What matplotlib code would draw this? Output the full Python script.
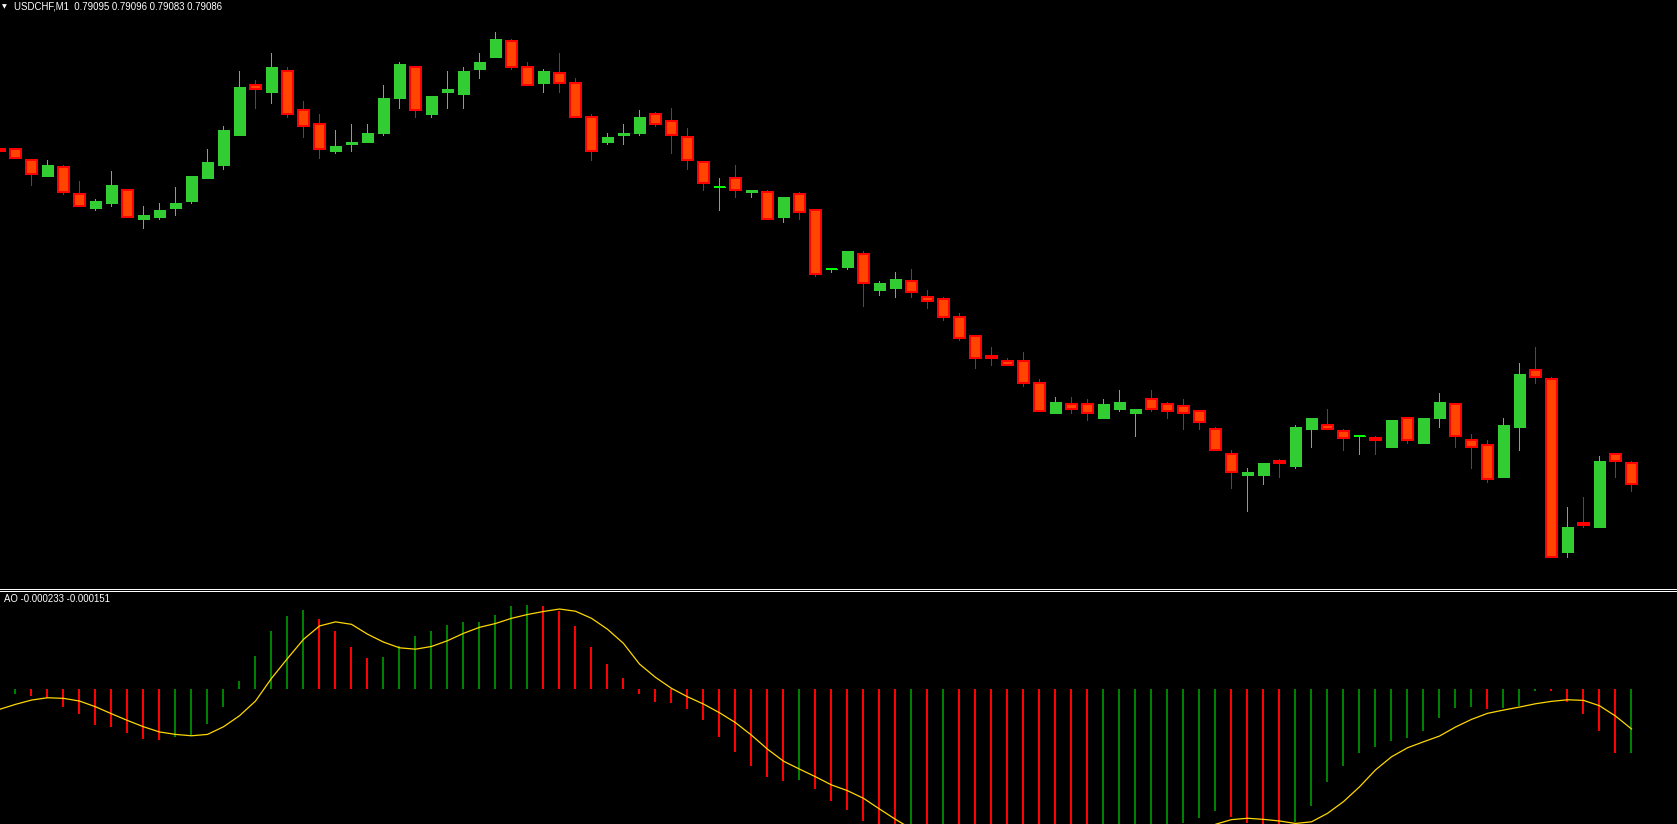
import matplotlib
matplotlib.use("Agg")
import matplotlib.pyplot as plt
from matplotlib.lines import Line2D
import numpy as np

# ---------------- data (USDCHF, M1) ----------------
opens = [0.79233, 0.79233, 0.79228, 0.79221, 0.79225, 0.79213, 0.79207, 0.79209, 0.79215, 0.79202,
         0.79203, 0.79207, 0.79210, 0.79220, 0.79226, 0.79239, 0.79261, 0.79258, 0.79267, 0.79250,
         0.79244, 0.79232, 0.79235, 0.79236, 0.79240, 0.79255, 0.79269, 0.79248, 0.79258, 0.79257,
         0.79268, 0.79273, 0.79280, 0.79269, 0.79262, 0.79266, 0.79262, 0.79247, 0.79236, 0.79239,
         0.79240, 0.79248, 0.79245, 0.79238, 0.79227, 0.79216, 0.79220, 0.79214, 0.79214, 0.79203,
         0.79213, 0.79206, 0.79180, 0.79181, 0.79187, 0.79171, 0.79172, 0.79175, 0.79168, 0.79167,
         0.79159, 0.79151, 0.79142, 0.79140, 0.79140, 0.79130, 0.79117, 0.79121, 0.79121, 0.79115,
         0.79119, 0.79117, 0.79123, 0.79121, 0.79120, 0.79118, 0.79110, 0.79099, 0.79090, 0.79090,
         0.79096, 0.79094, 0.79110, 0.79112, 0.79109, 0.79107, 0.79106, 0.79102, 0.79115, 0.79104,
         0.79115, 0.79121, 0.79105, 0.79103, 0.79089, 0.79111, 0.79136, 0.79132, 0.79056, 0.79069,
         0.79067, 0.79099, 0.79095]
highs = [0.79233, 0.79233, 0.79228, 0.79228, 0.79226, 0.79219, 0.79211, 0.79223, 0.79215, 0.79208,
         0.79209, 0.79216, 0.79221, 0.79233, 0.79243, 0.79267, 0.79263, 0.79275, 0.79269, 0.79254,
         0.79248, 0.79241, 0.79244, 0.79244, 0.79261, 0.79271, 0.79269, 0.79256, 0.79267, 0.79269,
         0.79275, 0.79284, 0.79281, 0.79271, 0.79268, 0.79275, 0.79264, 0.79248, 0.79240, 0.79244,
         0.79250, 0.79249, 0.79251, 0.79242, 0.79227, 0.79220, 0.79226, 0.79215, 0.79215, 0.79212,
         0.79214, 0.79206, 0.79180, 0.79188, 0.79188, 0.79175, 0.79179, 0.79180, 0.79171, 0.79168,
         0.79161, 0.79151, 0.79146, 0.79141, 0.79144, 0.79132, 0.79124, 0.79124, 0.79123, 0.79123,
         0.79127, 0.79119, 0.79127, 0.79122, 0.79123, 0.79118, 0.79111, 0.79101, 0.79093, 0.79095,
         0.79097, 0.79112, 0.79115, 0.79119, 0.79110, 0.79107, 0.79107, 0.79114, 0.79115, 0.79115,
         0.79126, 0.79121, 0.79108, 0.79105, 0.79115, 0.79139, 0.79146, 0.79133, 0.79076, 0.79080,
         0.79098, 0.79099, 0.79096]
lows = [0.79232, 0.79229, 0.79217, 0.79221, 0.79213, 0.79208, 0.79206, 0.79208, 0.79203, 0.79198,
        0.79202, 0.79204, 0.79209, 0.79220, 0.79224, 0.79239, 0.79251, 0.79253, 0.79247, 0.79238,
        0.79229, 0.79231, 0.79232, 0.79236, 0.79239, 0.79251, 0.79247, 0.79247, 0.79251, 0.79251,
        0.79264, 0.79273, 0.79268, 0.79261, 0.79258, 0.79258, 0.79247, 0.79228, 0.79235, 0.79235,
        0.79239, 0.79243, 0.79231, 0.79224, 0.79215, 0.79206, 0.79212, 0.79212, 0.79202, 0.79201,
        0.79202, 0.79177, 0.79179, 0.79180, 0.79164, 0.79169, 0.79168, 0.79168, 0.79163, 0.79158,
        0.79149, 0.79137, 0.79138, 0.79138, 0.79129, 0.79118, 0.79117, 0.79117, 0.79114, 0.79115,
        0.79118, 0.79107, 0.79118, 0.79115, 0.79110, 0.79110, 0.79101, 0.79084, 0.79074, 0.79086,
        0.79089, 0.79093, 0.79102, 0.79110, 0.79101, 0.79099, 0.79099, 0.79102, 0.79104, 0.79104,
        0.79111, 0.79102, 0.79093, 0.79087, 0.79089, 0.79101, 0.79130, 0.79054, 0.79054, 0.79067,
        0.79067, 0.79089, 0.79083]
closes = [0.79232, 0.79229, 0.79222, 0.79226, 0.79214, 0.79208, 0.79210, 0.79217, 0.79203, 0.79204,
          0.79206, 0.79209, 0.79221, 0.79227, 0.79241, 0.79260, 0.79259, 0.79269, 0.79248, 0.79243,
          0.79233, 0.79234, 0.79236, 0.79240, 0.79255, 0.79270, 0.79250, 0.79256, 0.79259, 0.79267,
          0.79271, 0.79281, 0.79269, 0.79261, 0.79267, 0.79262, 0.79247, 0.79232, 0.79238, 0.79240,
          0.79247, 0.79244, 0.79239, 0.79228, 0.79218, 0.79216, 0.79215, 0.79215, 0.79202, 0.79212,
          0.79205, 0.79178, 0.79180, 0.79188, 0.79174, 0.79174, 0.79176, 0.79170, 0.79166, 0.79159,
          0.79150, 0.79141, 0.79141, 0.79138, 0.79130, 0.79118, 0.79122, 0.79119, 0.79117, 0.79121,
          0.79122, 0.79119, 0.79119, 0.79118, 0.79117, 0.79113, 0.79101, 0.79091, 0.79091, 0.79095,
          0.79095, 0.79111, 0.79115, 0.79110, 0.79106, 0.79107, 0.79105, 0.79114, 0.79105, 0.79115,
          0.79122, 0.79107, 0.79102, 0.79088, 0.79112, 0.79134, 0.79133, 0.79054, 0.79067, 0.79068,
          0.79096, 0.79096, 0.79086]

# Awesome Oscillator histogram values
ao = [-0.000030, -0.000017, -0.0000245, -0.000034, -0.0000648, -0.0000904, -0.000132, -0.000139, -0.000161, -0.000183,
      -0.000187, -0.000175, -0.000168, -0.000127, -0.0000648, 0.0000293, 0.000121, 0.000212, 0.000267, 0.000289,
      0.000256, 0.000212, 0.000154, 0.000113, 0.000117, 0.000157, 0.000194, 0.000212, 0.000234, 0.000245,
      0.000246, 0.000271, 0.000304, 0.000307, 0.000303, 0.000285, 0.000231, 0.000154, 0.0000915, 0.0000403,
      -0.0000172, -0.0000465, -0.0000512, -0.0000732, -0.000112, -0.000175, -0.000229, -0.000281, -0.000321, -0.000336,
      -0.000332, -0.000365, -0.000409, -0.000442, -0.000482, -0.000536, -0.000553, -0.000545, -0.000554, -0.000551,
      -0.000555, -0.000583, -0.000612, -0.000632, -0.000646, -0.000660, -0.000662, -0.000663, -0.000664, -0.000653,
      -0.000619, -0.000598, -0.000560, -0.000524, -0.000492, -0.000472, -0.000445, -0.000467, -0.000492, -0.000508,
      -0.000513, -0.000488, -0.000427, -0.000339, -0.000281, -0.000233, -0.000211, -0.000189, -0.000178, -0.000153,
      -0.000105, -0.0000684, -0.0000648, -0.000072, -0.000071, -0.0000611, -0.0000062, -0.0000073, -0.0000465, -0.0000904,
      -0.000153, -0.000235, -0.000233]

# AO signal line (yellow)
signal = [-0.0000743, -0.000056, -0.0000403, -0.0000318, -0.000034, -0.0000439, -0.0000648, -0.0000904, -0.000115, -0.000138,
          -0.000157, -0.000166, -0.000171, -0.000166, -0.000138, -0.0000977, -0.0000439, 0.0000392, 0.000112, 0.000182,
          0.000231, 0.000246, 0.000237, 0.000201, 0.000172, 0.000151, 0.000146, 0.000156, 0.000177, 0.000204,
          0.000226, 0.000240, 0.000259, 0.000273, 0.000284, 0.000293, 0.000285, 0.000259, 0.000219, 0.000167,
          0.0000915, 0.0000428, 0.0000026, -0.0000282, -0.0000549, -0.0000867, -0.000123, -0.000169, -0.000220, -0.000264,
          -0.000293, -0.000321, -0.000351, -0.000372, -0.000400, -0.000439, -0.000477, -0.000512, -0.000534, -0.000548,
          -0.000552, -0.000558, -0.000571, -0.000587, -0.000606, -0.000627, -0.000642, -0.000653, -0.000659, -0.000660,
          -0.000652, -0.000639, -0.000619, -0.000591, -0.000559, -0.000529, -0.000495, -0.000478, -0.000473, -0.000477,
          -0.000483, -0.000492, -0.000486, -0.000455, -0.000412, -0.000358, -0.000296, -0.000248, -0.000215, -0.000193,
          -0.000172, -0.000139, -0.000111, -0.0000889, -0.0000769, -0.0000659, -0.0000538, -0.000045, -0.0000392, -0.0000414,
          -0.0000611, -0.0000988, -0.000146]

symbol_title = "USDCHF,M1  0.79095 0.79096 0.79083 0.79086"
ao_title = "AO -0.000233 -0.000151"

# ---------------- styling ----------------
W, H = 1677, 824
DPI = 100
BG = "#000000"
BULL_FILL, BULL_LINE = "#32CD32", "#00FF00"
BEAR_FILL, BEAR_LINE = "#FF4500", "#FF0000"
AO_UP, AO_DOWN = "#008000", "#FF0000"
SIG = "#FFD700"
PX = 72.0 / DPI  # one pixel in points

fig = plt.figure(figsize=(W / DPI, H / DPI), dpi=DPI, facecolor=BG)

main_top, main_bot = 0, 588          # pixel rows of main pane
ao_top, ao_bot = 591, 824            # pixel rows of AO pane
ax = fig.add_axes([0, 1 - main_bot / H, 1, (main_bot - main_top) / H])
ax2 = fig.add_axes([0, 1 - ao_bot / H, 1, (ao_bot - ao_top) / H])
for a in (ax, ax2):
    a.set_facecolor(BG)
    a.set_axis_off()
    a.set_xlim(0.5 / 16, (W + 0.5) / 16)

n = len(opens)
x = np.arange(n)
o = np.array(opens); c = np.array(closes); hi = np.array(highs); lo = np.array(lows)
up = c >= o

# wicks
ax.vlines(x[up], lo[up], hi[up], colors=BULL_LINE, linewidth=PX, antialiased=False, zorder=1)
ax.vlines(x[~up], lo[~up], hi[~up], colors=BEAR_LINE, linewidth=PX, antialiased=False, zorder=1)
# bodies
bw = 11 / 16
ax.bar(x[up], (c - o)[up], bottom=o[up], width=bw, color=BULL_FILL, edgecolor=BULL_FILL,
       linewidth=PX, antialiased=False, zorder=2)
ax.bar(x[~up], (o - c)[~up], bottom=c[~up], width=bw, color=BEAR_FILL, edgecolor=BEAR_LINE,
       linewidth=2 * PX, antialiased=False, zorder=2)
# doji bodies (open == close) drawn as a flat line
doji = c == o
ax.hlines(c[doji], x[doji] - bw / 2, x[doji] + bw / 2, colors=BULL_LINE, linewidth=2 * PX,
          antialiased=False, zorder=3)

ax.set_ylim(0.790403, 0.792982)

# AO histogram: green when rising versus the previous bar, red otherwise
aov = np.array(ao)
rising = aov[1:] > aov[:-1]
cols = [AO_UP if r else AO_DOWN for r in rising]
ax2.bar(x[1:], aov[1:], width=2 / 16, color=cols, linewidth=0, antialiased=False, zorder=1)
ax2.plot(x, signal, color=SIG, linewidth=0.9, zorder=2, solid_joinstyle="round")
ax2.set_ylim(-0.000494, 0.000359)

# separator lines between the panes
for row in (588, 590):
    yf = 1 - (row + 0.5) / H
    fig.add_artist(Line2D([0, 1], [yf, yf], transform=fig.transFigure, color="#FFFFFF",
                          linewidth=PX, antialiased=False))

# captions
fig.text(2 / W, 1 - 6.5 / H, "\u25BC", color="#FFFFFF", fontsize=4.5, family="DejaVu Sans",
         ha="left", va="center")
fig.text(14 / W, 1 - 6.5 / H, symbol_title, color="#FFFFFF", fontsize=6.9,
         family="Liberation Sans", ha="left", va="center")
fig.text(3.5 / W, 1 - 599.5 / H, ao_title, color="#FFFFFF", fontsize=6.9,
         family="Liberation Sans", ha="left", va="center")

fig.savefig("out.png", dpi=DPI, facecolor=BG)
